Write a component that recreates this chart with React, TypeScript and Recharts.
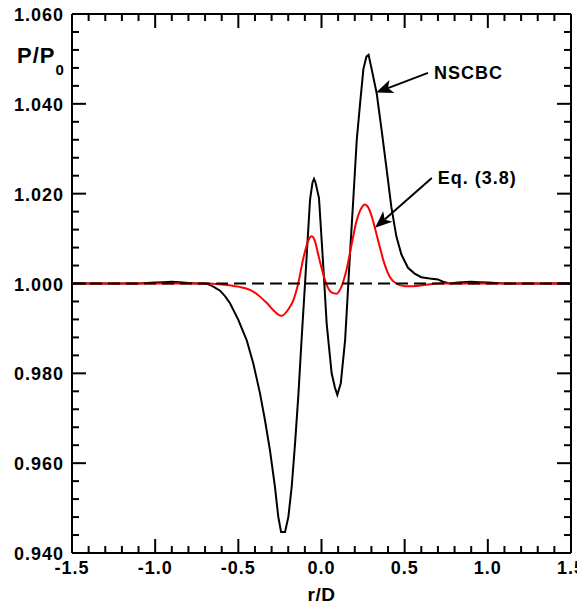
import { LineChart, Line, XAxis, YAxis, ReferenceLine } from "recharts";

// NSCBC (black solid)
const nscbcR = [
  -1.5, -1.3, -1.1, -1.0, -0.95, -0.9, -0.85, -0.8, -0.75, -0.7, -0.68, -0.65, -0.61, -0.58, -0.55,
  -0.5, -0.45, -0.41, -0.37, -0.34, -0.31, -0.28, -0.26, -0.243, -0.219, -0.199, -0.179, -0.159,
  -0.139, -0.119, -0.099, -0.069, -0.054, -0.045, -0.036, -0.015, 0.011, 0.031, 0.061, 0.081, 0.095,
  0.116, 0.142, 0.172, 0.192, 0.212, 0.232, 0.252, 0.27, 0.283, 0.3, 0.332, 0.362, 0.392, 0.42,
  0.45, 0.48, 0.52, 0.56, 0.6, 0.65, 0.7, 0.73, 0.77, 0.82, 0.9, 0.95, 1.0, 1.1, 1.5,
];
const nscbcP = [
  1.0, 1.0, 1.0, 1.0002, 1.0003, 1.0004, 1.0003, 1.0001, 1.0, 1.0, 0.9998, 0.9993, 0.9984, 0.9972, 0.9956,
  0.9919, 0.9874, 0.9822, 0.9756, 0.9696, 0.9629, 0.9548, 0.9481, 0.9447, 0.9447, 0.9481, 0.9548, 0.9644,
  0.9752, 0.988, 1.0, 1.0186, 1.0225, 1.0233, 1.0225, 1.019, 1.0037, 0.9911, 0.98, 0.9768, 0.9752,
  0.9778, 0.9874, 1.007, 1.0193, 1.032, 1.0401, 1.0478, 1.0505, 1.0509, 1.048, 1.0423, 1.034, 1.0253, 1.017,
  1.0105, 1.0065, 1.0035, 1.0022, 1.0014, 1.0011, 1.0009, 1.0004, 1.0, 1.0002, 1.0004, 1.0003, 1.0002, 1.0, 1.0,
];

// Eq. (3.8) (red)
const eqR = [
  -1.5, -0.9, -0.7, -0.6, -0.5, -0.43, -0.38, -0.33, -0.28, -0.24, -0.2, -0.17, -0.14, -0.11, -0.08,
  -0.06, -0.04, -0.02, 0.0, 0.03, 0.06, 0.09, 0.12, 0.15, 0.18, 0.21, 0.24, 0.26, 0.28, 0.3, 0.32,
  0.35, 0.38, 0.41, 0.45, 0.5, 0.55, 0.63, 0.7, 1.5,
];
const eqP = [
  1.0, 1.0, 1.0, 0.9998, 0.9993, 0.9986, 0.9974, 0.9957, 0.9937, 0.9928, 0.9942, 0.9962, 1.0, 1.0055, 1.0095,
  1.0105, 1.0095, 1.0065, 1.0035, 0.9998, 0.998, 0.9977, 0.9993, 1.003, 1.0085, 1.0138, 1.0168, 1.0176, 1.017, 1.0152, 1.0125,
  1.0082, 1.0042, 1.0015, 1.0, 0.9994, 0.9994, 0.9997, 1.0, 1.0,
];

// reference level P/P0 = 1
const baseR = [-1.5, 1.5];
const baseP = [1.0, 1.0];

const xMajor = [-1.5, -1.0, -0.5, 0.0, 0.5, 1.0, 1.5];
const xLabels = ["-1.5", "-1.0", "-0.5", "0.0", "0.5", "1.0", "1.5"];
const yMajor = [0.94, 0.96, 0.98, 1.0, 1.02, 1.04, 1.06];
const yLabels = ["0.940", "0.960", "0.980", "1.000", "1.020", "1.040", "1.060"];

// annotation arrows: [text start, arrow tip] in data units
const nscbcArrow = [{ x: 0.64, y: 1.0469 }, { x: 0.328, y: 1.0425 }];
const eqArrow = [{ x: 0.663, y: 1.0235 }, { x: 0.322, y: 1.0124 }];

const toRows = (r: number[], p: number[]) => r.map((x, i) => ({ r: x, p: p[i] }));
const nscbcData = toRows(nscbcR, nscbcP);
const eqData = toRows(eqR, eqP);
const baseData = toRows(baseR, baseP);

// minor ticks every 0.1 in x, 0.004 in y
const xTicks = Array.from({ length: 31 }, (_, i) => Math.round((-1.5 + i * 0.1) * 10) / 10);
const yTicks = Array.from({ length: 31 }, (_, i) => Math.round((0.94 + i * 0.004) * 1000) / 1000);

const font = "'Liberation Sans', Arial, Helvetica, sans-serif";
const labelStyle = { fontFamily: font, fontWeight: 700, fontSize: 18, letterSpacing: 1, fill: "#000" };

const isMajor = (list: number[], v: number) => list.findIndex((m) => Math.abs(m - v) < 1e-6);

const makeTick = (side: "bottom" | "top" | "left" | "right") => (props: any) => {
  const { x, y, payload } = props;
  const list = side === "bottom" || side === "top" ? xMajor : yMajor;
  const i = isMajor(list, payload.value);
  const len = i >= 0 ? 14 : 7;
  let x2 = x;
  let y2 = y;
  if (side === "bottom") y2 = y - len;
  if (side === "top") y2 = y + len;
  if (side === "left") x2 = x + len;
  if (side === "right") x2 = x - len;
  return (
    <g>
      <line x1={x} y1={y} x2={x2} y2={y2} stroke="#000" strokeWidth={2} />
      {side === "bottom" && i >= 0 && (
        <text x={x} y={y + 21} textAnchor="middle" style={labelStyle}>
          {xLabels[i]}
        </text>
      )}
      {side === "left" && i >= 0 && (
        <text x={x - 8} y={y + 7} textAnchor="end" style={labelStyle}>
          {yLabels[i]}
        </text>
      )}
    </g>
  );
};

const arrowShape = (text: string) => (props: any) => {
  const { x1, y1, x2, y2 } = props;
  const dx = x2 - x1;
  const dy = y2 - y1;
  const len = Math.sqrt(dx * dx + dy * dy);
  const ux = dx / len;
  const uy = dy / len;
  const hl = 17;
  const hw = 7;
  const bx = x2 - ux * hl;
  const by = y2 - uy * hl;
  const nx = x2 - ux * hl * 0.75;
  const ny = y2 - uy * hl * 0.75;
  const pts = [
    `${x2},${y2}`,
    `${bx - uy * hw},${by + ux * hw}`,
    `${nx},${ny}`,
    `${bx + uy * hw},${by - ux * hw}`,
  ].join(" ");
  return (
    <g>
      <line x1={x1} y1={y1} x2={nx} y2={ny} stroke="#000" strokeWidth={2} />
      <polygon points={pts} fill="#000" />
      <text x={x1 + 6} y={y1 + 6} style={labelStyle}>
        {text}
      </text>
    </g>
  );
};

const axisLine = { stroke: "#000", strokeWidth: 2 };

export default function App() {
  return (
    <div style={{ width: 577, height: 597, background: "#fff" }}>
      <LineChart width={577} height={597} data={nscbcData} margin={{ top: 0, right: 0, bottom: 0, left: 0 }}>
        <XAxis
          xAxisId="b"
          dataKey="r"
          type="number"
          domain={[-1.5, 1.5]}
          allowDataOverflow
          ticks={xTicks}
          interval={0}
          height={52}
          tickSize={0}
          tickMargin={0}
          tickLine={false}
          axisLine={axisLine}
          tick={makeTick("bottom")}
          label={{
            value: "r/D",
            position: "insideBottom",
            offset: 4,
            style: { ...labelStyle, fontSize: 19, letterSpacing: 0.5 },
          }}
        />
        <XAxis
          xAxisId="t"
          orientation="top"
          dataKey="r"
          type="number"
          domain={[-1.5, 1.5]}
          allowDataOverflow
          ticks={xTicks}
          interval={0}
          height={6}
          tickSize={0}
          tickMargin={0}
          tickLine={false}
          axisLine={axisLine}
          tick={makeTick("top")}
        />
        <YAxis
          yAxisId="l"
          type="number"
          domain={[0.94, 1.06]}
          allowDataOverflow
          ticks={yTicks}
          interval={0}
          width={64}
          tickSize={0}
          tickMargin={0}
          tickLine={false}
          axisLine={axisLine}
          tick={makeTick("left")}
          label={{
            content: () => (
              <text x={9} y={55} style={{ ...labelStyle, fontSize: 22 }}>
                P/P
                <tspan dy={12} style={{ fontSize: 15 }}>
                  0
                </tspan>
              </text>
            ),
          }}
        />
        <YAxis
          yAxisId="r"
          orientation="right"
          type="number"
          domain={[0.94, 1.06]}
          allowDataOverflow
          ticks={yTicks}
          interval={0}
          width={14}
          tickSize={0}
          tickMargin={0}
          tickLine={false}
          axisLine={axisLine}
          tick={makeTick("right")}
        />
        <Line
          xAxisId="b"
          yAxisId="l"
          data={nscbcData}
          dataKey="p"
          type="linear"
          stroke="#000"
          strokeWidth={2}
          dot={false}
          isAnimationActive={false}
        />
        <Line
          xAxisId="b"
          yAxisId="l"
          data={eqData}
          dataKey="p"
          type="monotone"
          stroke="#ff0000"
          strokeWidth={2}
          dot={false}
          isAnimationActive={false}
        />
        <Line
          xAxisId="t"
          yAxisId="r"
          data={baseData}
          dataKey="p"
          type="linear"
          stroke="#000"
          strokeWidth={2}
          strokeDasharray="12 6"
          dot={false}
          isAnimationActive={false}
        />
        <ReferenceLine
          xAxisId="b"
          yAxisId="l"
          segment={nscbcArrow}
          ifOverflow="visible"
          shape={arrowShape("NSCBC")}
        />
        <ReferenceLine
          xAxisId="b"
          yAxisId="l"
          segment={eqArrow}
          ifOverflow="visible"
          shape={arrowShape("Eq. (3.8)")}
        />
      </LineChart>
    </div>
  );
}
